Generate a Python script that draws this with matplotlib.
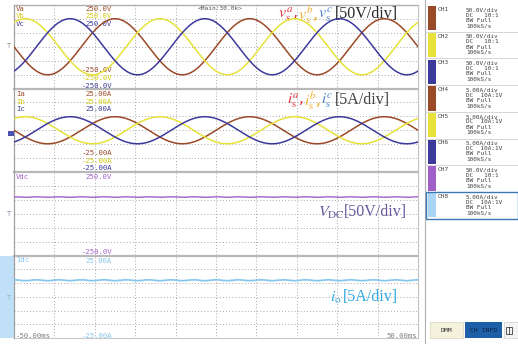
import numpy as np
import matplotlib
matplotlib.use("Agg")
import matplotlib.pyplot as plt
from matplotlib.patches import Rectangle

plt.rcParams["mathtext.fontset"] = "stix"

# ---------------------------------------------------------------- data
time_span_ms = (-50.0, 50.0)        # horizontal window, 10 ms/div
line_freq_hz = 30.0                 # fundamental of the AC quantities
phase_a_peak_ms = -25.0             # instant of the phase-a peak
phase_shift_deg = [0.0, -120.0, -240.0]   # a, b, c
phase_names = ["a", "b", "c"]

vs_peak = 168.0                     # V, phase voltage amplitude
is_peak = 8.1                       # A, phase current amplitude
vdc_level = 100.0                   # V, DC-link voltage
io_level = 10.0                     # A, output current
vdc_ripple = 1.5                    # V, six-pulse ripple on the DC link
io_ripple = 0.25                    # A, six-pulse ripple on the output current

volt_range = (-250.0, 250.0)
curr_range = (-25.0, 25.0)

channels = ["CH1", "CH2", "CH3", "CH4", "CH5", "CH6", "CH7", "CH8"]
channel_info = [
    ["50.0V/div", "DC   10:1", "BW Full", "100kS/s"],
    ["50.0V/div", "DC   10:1", "BW Full", "100kS/s"],
    ["50.0V/div", "DC   10:1", "BW Full", "100kS/s"],
    ["5.00A/div", "DC  10A:1V", "BW Full", "100kS/s"],
    ["5.00A/div", "DC  10A:1V", "BW Full", "100kS/s"],
    ["5.00A/div", "DC  10A:1V", "BW Full", "100kS/s"],
    ["50.0V/div", "DC   10:1", "BW Full", "100kS/s"],
    ["5.00A/div", "DC  10A:1V", "BW Full", "100kS/s"],
]

# ---------------------------------------------------------------- styling
C_A = "#9a4a28"
C_B = "#e6e23a"
C_C = "#3e3a9c"
C_DC = "#a060c8"
C_IO = "#86c6ec"
phase_colors = [C_A, C_B, C_C]
swatch_colors = [C_A, C_B, C_C, C_A, C_B, C_C, C_DC, "#a8d6f4"]
GRID = "#a8a8a8"
MONO = "DejaVu Sans Mono"

W, H = 518, 344
fig = plt.figure(figsize=(W / 100, H / 100), dpi=100)
fig.patch.set_facecolor("white")

bg = fig.add_axes([0, 0, 1, 1])
bg.set_xlim(0, W)
bg.set_ylim(H, 0)
bg.axis("off")

X0, X1 = 14.0, 418.0
ZONES = [5.0, 88.5, 172.0, 255.5, 338.0]


def rect(x0, y0, x1, y1):
    return [x0 / W, 1 - y1 / H, (x1 - x0) / W, (y1 - y0) / H]


# highlighted strip of the selected channel (CH8 zone)
bg.add_patch(Rectangle((0, ZONES[3]), X0, ZONES[4] - ZONES[3],
                       facecolor="#bfe0f6", edgecolor="none", zorder=0))

# dotted graticule
for k in range(1, 10):
    x = X0 + k * (X1 - X0) / 10
    bg.plot([x, x], [ZONES[0], ZONES[-1]], color=GRID, lw=0.7,
            ls=(0, (1.0, 2.2)), zorder=1)
for z in range(4):
    top, bot = ZONES[z], ZONES[z + 1]
    for k in range(1, 6):
        y = top + k * (bot - top) / 6
        bg.plot([X0, X1], [y, y], color=GRID, lw=0.7,
                ls=(0, (1.0, 2.2)), zorder=1)

# zone separators and frame
for y in ZONES[1:-1]:
    bg.plot([X0, X1], [y, y], color="#b8b8b8", lw=1.6, zorder=2)
bg.plot([X0, X1], [ZONES[0], ZONES[0]], color="#b0b0b0", lw=1.0, zorder=2)
bg.plot([X0, X1], [ZONES[-1], ZONES[-1]], color="#c8c8c8", lw=0.8, zorder=2)
bg.plot([X0, X0], [ZONES[0], ZONES[-1]], color="#a0a0a0", lw=0.9, zorder=2)
bg.plot([X1, X1], [ZONES[0], ZONES[-1]], color="#c0c0c0", lw=0.8, zorder=2)

# ---------------------------------------------------------------- traces
t = np.linspace(time_span_ms[0], time_span_ms[1], 4001)
omega = 2 * np.pi * line_freq_hz / 1000.0


def phase_wave(amp, shift_deg):
    return amp * np.cos(omega * (t - phase_a_peak_ms) + np.deg2rad(shift_deg))


def zone_axes(z, ylim):
    ax = fig.add_axes(rect(X0, ZONES[z], X1, ZONES[z + 1]))
    ax.set_xlim(*time_span_ms)
    ax.set_ylim(*ylim)
    ax.patch.set_alpha(0)
    ax.axis("off")
    return ax


ax_v = zone_axes(0, volt_range)
for shift, col in zip(phase_shift_deg, phase_colors):
    ax_v.plot(t, phase_wave(vs_peak, shift), color=col, lw=1.1)

ax_i = zone_axes(1, curr_range)
for shift, col in zip(phase_shift_deg, phase_colors):
    ax_i.plot(t, phase_wave(is_peak, shift), color=col, lw=1.1)

ax_dc = zone_axes(2, volt_range)
ax_dc.plot(t, vdc_level + vdc_ripple * np.cos(6 * omega * t), color=C_DC, lw=1.0)

ax_io = zone_axes(3, curr_range)
ax_io.plot(t, io_level + io_ripple * np.cos(6 * omega * t)
           + 0.5 * io_ripple * np.sin(47 * omega * t), color=C_IO, lw=1.2)

# ---------------------------------------------------------------- scope labels
def lab(x, y, s, c, ha="left", size=5.2):
    bg.text(x, y, s, color=c, fontsize=size, family=MONO, ha=ha, va="center",
            zorder=5)


for i, (nm, col) in enumerate(zip(phase_names, phase_colors)):
    tc = "#d4cc10" if nm == "b" else col
    lab(16, 9 + 7.5 * i, "V" + nm, tc)
    lab(112, 9 + 7.5 * i, "250.0V", tc, ha="right")
    lab(112, 70 + 7.8 * i, "-250.0V", tc, ha="right")
    lab(16, 94 + 7.5 * i, "I" + nm, tc)
    lab(112, 94 + 7.5 * i, "25.00A", tc, ha="right")
    lab(112, 153 + 7.6 * i, "-25.00A", tc, ha="right")

lab(16, 177, "Vdc", C_DC)
lab(112, 177, "250.0V", C_DC, ha="right")
lab(112, 252, "-250.0V", C_DC, ha="right")
lab(16, 260, "Idc", C_IO)
lab(112, 261, "25.00A", C_IO, ha="right")
lab(112, 336, "-25.00A", C_IO, ha="right")
lab(16, 336, "-50.00ms", "#808080")
lab(417, 336, "50.00ms", "#808080", ha="right")
lab(198, 9, "<Main:30.0k>", "#505050", size=4.4)

# zero-level markers on the left edge
lab(7, 46, "\u22a4", "#808080", size=5)
bg.add_patch(Rectangle((8, 130.5), 5.5, 5.5, facecolor="#4d52b0",
                       edgecolor="none", zorder=5))
lab(7, 214, "\u22a4", "#8a70a8", size=5)
lab(7, 298, "\u22a4", "#8ab0c8", size=5)

# ---------------------------------------------------------------- annotations
def math_piece(x, y, s, c, size=11.5):
    bg.text(x, y, s, color=c, fontsize=size, ha="left", va="center", zorder=6)


def bracket(x, y, s, c):
    bg.text(x, y, s, color=c, fontsize=11.5, family="Liberation Serif",
            ha="left", va="center", zorder=6)


sym_colors = ["#e0303a", "#f0b030", "#4a80c4"]
vx = [278, 298, 318]
for x, nm, col, sep in zip(vx, phase_names, sym_colors, [",", ",", ""]):
    math_piece(x, 15, r"$v_{\mathrm{s}}^{%s}$%s" % (nm, sep), col)
bracket(335, 14, "[50V/div]", "#2a2a2a")

ix = [287, 304, 321]
for x, nm, col, sep in zip(ix, phase_names, sym_colors, [",", ",", ""]):
    math_piece(x, 101, r"$i_{\mathrm{s}}^{%s}$%s" % (nm, sep), col, size=11)
bracket(335, 100, "[5A/div]", "#444444")

math_piece(318, 213, r"$V_{\mathrm{DC}}$", "#6a5a9c")
bracket(344, 212, "[50V/div]", "#6a5a9c")

math_piece(330, 298, r"$i_{\mathrm{o}}$", "#30a8e0")
bracket(343, 297, "[5A/div]", "#30a8e0")

# ---------------------------------------------------------------- channel panel
PX0 = 425.0
bg.plot([PX0, PX0], [0, H], color="#b0b0b0", lw=0.8, zorder=2)
box_h = 26.7
for k, (name, info, sc) in enumerate(zip(channels, channel_info, swatch_colors)):
    top = 5 + k * box_h
    bg.plot([PX0, W], [top + box_h, top + box_h], color="#d0d0d0", lw=0.6,
            zorder=2)
    bg.add_patch(Rectangle((427.5, top + 1.2), 8, box_h - 2.4,
                           facecolor=sc, edgecolor="none", zorder=3))
    bg.text(438, top + 4.5, name, fontsize=4.4, family=MONO, color="#404040",
            ha="left", va="center")
    for j, line in enumerate(info):
        bg.text(466, top + 4.8 + 5.3 * j, line, fontsize=4.3, family=MONO,
                color="#404040", ha="left", va="center")
sel_top = 5 + 7 * box_h
bg.add_patch(Rectangle((PX0 + 0.5, sel_top), W - PX0 - 1, box_h,
                       facecolor="none", edgecolor="#3a78b4", lw=1.0, zorder=4))

# soft-key buttons
bg.add_patch(Rectangle((430, 322), 33, 16, facecolor="#f4f1dc",
                       edgecolor="#d8d4b8", lw=0.5, zorder=3))
bg.text(446.5, 330.5, "DMM", fontsize=4.6, family=MONO, color="#303030",
        ha="center", va="center", zorder=4)
bg.add_patch(Rectangle((465, 322), 37, 16, facecolor="#1e60a8",
                       edgecolor="none", zorder=3))
bg.text(483.5, 330.5, "CH INFO", fontsize=4.6, family=MONO, color="#0a1f40",
        ha="center", va="center", zorder=4)
bg.add_patch(Rectangle((504, 322), 14, 16, facecolor="#f4f4f4",
                       edgecolor="#d0d0d0", lw=0.5, zorder=3))
bg.add_patch(Rectangle((505.5, 326.5), 6.5, 7, facecolor="none",
                       edgecolor="#404040", lw=0.6, zorder=4))
bg.plot([508.5, 508.5], [326.5, 333.5], color="#404040", lw=0.6, zorder=4)

fig.savefig("out.png", dpi=100, facecolor="white")
